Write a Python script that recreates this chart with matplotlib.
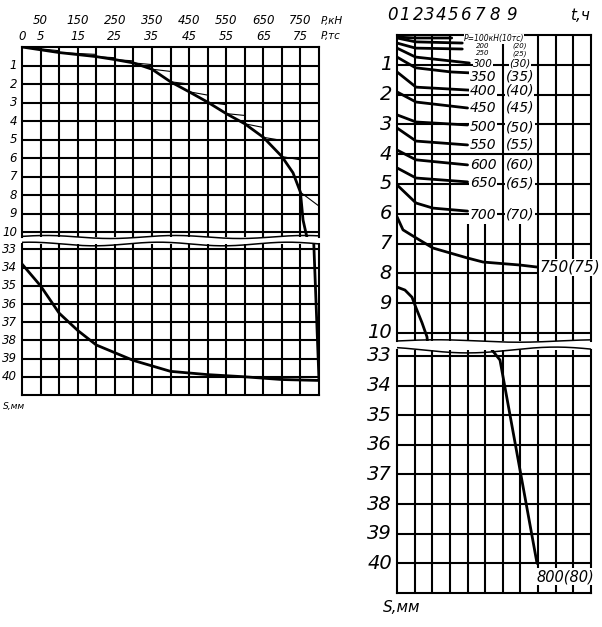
import matplotlib
matplotlib.use("Agg")
import matplotlib.pyplot as plt
import numpy as np
from matplotlib.transforms import blended_transform_factory

# ---------------- data ----------------
# Left chart: load test record, settlement S (mm) against load P (kN)
stage_P = [0, 100, 200, 250, 300, 350, 400, 450, 500, 550, 600, 650, 700, 750, 800]
stage_S_start = [0, 0.2, 0.4, 0.58, 0.75, 0.95, 1.32, 2.0, 2.6, 3.12, 3.7, 4.35, 5.05, 6.1, 8.6]
stage_S_end = [0, 0.3, 0.52, 0.68, 0.86, 1.2, 1.88, 2.42, 2.98, 3.6, 4.15, 4.88, 5.92, 7.85, 40.2]

load_curve_P = [0, 100, 200, 250, 300, 350, 400, 450, 500, 550, 600, 650, 700, 730, 750, 757, 771, 786, 800]
load_curve_S = [0, 0.3, 0.52, 0.68, 0.86, 1.2, 1.88, 2.42, 2.98, 3.6, 4.15, 4.88, 5.92, 6.8, 7.85, 9.35, 10.6, 32.7, 40.2]

unload_P = [800, 700, 600, 500, 400, 300, 200, 150, 100, 50, 0]
unload_S = [40.2, 40.15, 40.0, 39.88, 39.7, 39.1, 38.25, 37.45, 36.5, 35.0, 33.8]

top_kN_labels = [50, 150, 250, 350, 450, 550, 650, 750]
top_tf_labels = [5, 15, 25, 35, 45, 55, 65, 75]

# Right chart: settlement S (mm) against time t for every load stage
stage_loads_kN = [100, 200, 250, 300, 350, 400, 450, 500, 550, 600, 650, 700, 750, 800]
stage_loads_tf = [10, 20, 25, 30, 35, 40, 45, 50, 55, 60, 65, 70, 75, 80]
time_curves_t = {
    100: [0, 1.05, 3.1],
    200: [0, 1.05, 3.7],
    250: [0, 1.05, 3.7],
    300: [0, 1.05, 4.1],
    350: [0, 1.05, 3.06, 4.1],
    400: [0, 1.08, 4.1],
    450: [0, 1.08, 4.0],
    500: [0, 1.08, 4.0],
    550: [0, 1.08, 4.0],
    600: [0, 1.08, 4.0],
    650: [0, 1.08, 4.0],
    700: [0, 1.08, 2.04, 4.0],
    750: [0, 0.34, 1.08, 2.04, 3.97, 4.88, 6.97, 7.97],
    800: [0, 0.45, 0.85, 1.08, 1.42, 1.7, 5.39, 5.84, 7.94],
}
time_curves_S = {
    100: [0.07, 0.1, 0.1],
    200: [0.1, 0.23, 0.27],
    250: [0.27, 0.44, 0.47],
    300: [0.44, 0.74, 0.94],
    350: [0.74, 1.1, 1.24, 1.27],
    400: [1.24, 1.75, 1.85],
    450: [1.91, 2.25, 2.45],
    500: [2.68, 2.92, 3.02],
    550: [3.12, 3.56, 3.69],
    600: [3.86, 4.19, 4.36],
    650: [4.46, 4.8, 4.93],
    700: [5.03, 5.64, 5.81, 5.91],
    750: [6.1, 6.54, 6.81, 7.15, 7.48, 7.62, 7.72, 7.79],
    800: [8.46, 8.56, 8.8, 9.16, 9.66, 10.13, 32.8, 33.14, 40.0],
}
time_tick_labels = ["0", "1", "2", "3", "4", "5", "6", "7", "8", "9"]

# ---------------- styling ----------------
W, H = 602, 627
FONT = ["Liberation Sans Narrow", "DejaVu Sans"]
LW_GRID = 1.5
LW_CURVE = 2.0
LW_THIN = 0.8
INK = "black"

plt.rcParams["font.family"] = FONT
plt.rcParams["font.style"] = "italic"

fig = plt.figure(figsize=(W / 100, H / 100), dpi=100)
fig.patch.set_facecolor("white")


def px_axes(x0, y0, x1, y1):
    ax = fig.add_axes([x0 / W, 1 - y1 / H, (x1 - x0) / W, (y1 - y0) / H])
    ax.set_xticks([])
    ax.set_yticks([])
    ax.patch.set_alpha(0)
    for s in ax.spines.values():
        s.set_linewidth(LW_GRID)
        s.set_color(INK)
    return ax


def wavy_edge(ax, y, amp, waves, phase):
    xs = np.linspace(0, 1, 300)
    ys = y + amp * np.sin(2 * np.pi * waves * xs + phase)
    ax.plot(xs, ys, transform=ax.transAxes, color=INK, lw=1.1, clip_on=False,
            solid_capstyle="butt")


def fig_text(x, y, s, **kw):
    fig.text(x / W, 1 - y / H, s, **kw)


# ---------------- left chart ----------------
L_X0, L_X1 = 22, 319
axLU = px_axes(L_X0, 47, L_X1, 237)
axLL = px_axes(L_X0, 244, L_X1, 395)
axLU.set_xlim(0, 800); axLU.set_ylim(10.27, 0)
axLL.set_xlim(0, 800); axLL.set_ylim(41.0, 32.7)
axLU.spines["bottom"].set_visible(False)
axLL.spines["top"].set_visible(False)
wavy_edge(axLU, 0.0, 0.008, 2.3, 0.4)
wavy_edge(axLL, 1.0, 0.012, 2.3, 1.2)

grid_P = np.arange(50, 800, 50)
axLU.vlines(grid_P, 0, 10.27, color=INK, lw=LW_GRID)
axLU.hlines(np.arange(1, 11), 0, 800, color=INK, lw=LW_GRID)
axLL.vlines(grid_P, 32.7, 41.0, color=INK, lw=LW_GRID)
axLL.hlines(np.arange(33, 41), 0, 800, color=INK, lw=LW_GRID)

# step record: instantaneous settlement on loading, then settlement under constant load
step_x, step_y = [stage_P[0]], [stage_S_end[0]]
for p, s0, s1 in zip(stage_P[1:], stage_S_start[1:], stage_S_end[1:]):
    step_x += [p, p]
    step_y += [s0, s1]

for ax in (axLU, axLL):
    ax.plot(step_x, step_y, color=INK, lw=LW_THIN)
    ax.plot(load_curve_P, load_curve_S, color=INK, lw=LW_CURVE,
            solid_joinstyle="round", solid_capstyle="round")
    ax.plot(unload_P, unload_S, color=INK, lw=LW_CURVE,
            solid_joinstyle="round", solid_capstyle="round")

tr_top = blended_transform_factory(axLU.transData, fig.transFigure)
for p in top_kN_labels:
    axLU.text(p, 1 - 21 / H, str(p), transform=tr_top, ha="center", va="center",
              fontsize=8.5)
for p, t in zip(top_kN_labels, top_tf_labels):
    axLU.text(p, 1 - 36 / H, str(t), transform=tr_top, ha="center", va="center",
              fontsize=8.5)
axLU.text(0, 1 - 36 / H, "0", transform=tr_top, ha="center", va="center", fontsize=8.5)
fig_text(321, 21, "P,кН", ha="left", va="center", fontsize=7.5)
fig_text(321, 36, "P,тс", ha="left", va="center", fontsize=7.5)

for ax, vals in ((axLU, range(1, 11)), (axLL, range(33, 41))):
    tr = blended_transform_factory(fig.transFigure, ax.transData)
    for v in vals:
        ax.text(17 / W, v, str(v), transform=tr, ha="right", va="center", fontsize=8.5)
fig_text(3, 406, "S,мм", ha="left", va="center", fontsize=6.5)

# ---------------- right chart ----------------
R_X0, R_X1 = 397, 591
axRU = px_axes(R_X0, 35, R_X1, 341)
axRL = px_axes(R_X0, 350, R_X1, 593)
axRU.set_xlim(0, 11); axRU.set_ylim(10.27, 0)
axRL.set_xlim(0, 11); axRL.set_ylim(41.0, 32.8)
axRU.spines["bottom"].set_visible(False)
axRL.spines["top"].set_visible(False)
wavy_edge(axRU, 0.0, 0.004, 1.2, 0.0)
wavy_edge(axRL, 1.0, 0.012, 1.1, 2.2)

# columns 4, 5 and 7 are interrupted by the stage labels in the upper part
for c in range(1, 11):
    top = 6.35 if c in (4, 5, 7) else 0
    axRU.vlines(c, top, 10.27, color=INK, lw=LW_GRID)
axRU.hlines(np.arange(1, 11), 0, 11, color=INK, lw=LW_GRID)
axRL.vlines(np.arange(1, 11), 32.8, 41.0, color=INK, lw=LW_GRID)
axRL.hlines(np.arange(33, 41), 0, 11, color=INK, lw=LW_GRID)

for ax in (axRU, axRL):
    for p in stage_loads_kN:
        ax.plot(time_curves_t[p], time_curves_S[p], color=INK, lw=LW_CURVE,
                solid_joinstyle="round", solid_capstyle="round")

# stage labels: (row S, font size, box padding)
label_rows = {
    200: (0.37, 5, 0.1), 250: (0.62, 5, 0.1), 300: (0.97, 7.5, 0.2),
    350: (1.40, 10, 0.2), 400: (1.87, 10, 0.2), 450: (2.45, 10, 0.3),
    500: (3.1, 10, 0.3), 550: (3.69, 10, 0.3), 600: (4.36, 10, 0.3),
    650: (4.97, 10, 0.3), 700: (6.04, 10, 0.3),
}
axRU.text(5.5, 0.13, "P=100кН(10тс)", ha="center", va="center", fontsize=5.5,
          bbox=dict(facecolor="white", edgecolor="none", pad=0.1), zorder=5)
for p, t in zip(stage_loads_kN, stage_loads_tf):
    if p in label_rows:
        s, fs, pad = label_rows[p]
        bx = dict(facecolor="white", edgecolor="none", pad=pad)
        axRU.text(4.88, s, str(p), ha="center", va="center", fontsize=fs, bbox=bx, zorder=5)
        axRU.text(6.97, s, f"({t})", ha="center", va="center", fontsize=fs, bbox=bx, zorder=5)
box = dict(facecolor="white", edgecolor="none", pad=0.6)
axRU.text(8.08, 7.8, f"{stage_loads_kN[-2]}({stage_loads_tf[-2]})", ha="left", va="center",
          fontsize=11, bbox=box, zorder=5, clip_on=False)
axRL.text(9.55, 40.45, f"{stage_loads_kN[-1]}({stage_loads_tf[-1]})", ha="center",
          va="center", fontsize=10.5, bbox=box, zorder=5)

# time axis labels across the top
t_label_pos = [-0.23, 0.45, 1.19, 1.81, 2.49, 3.17, 3.91, 4.71, 5.56, 6.52]
tr_rt = blended_transform_factory(axRU.transData, fig.transFigure)
for c, s in zip(t_label_pos, time_tick_labels):
    axRU.text(c, 1 - 15 / H, s, transform=tr_rt, ha="center", va="center", fontsize=12)
axRU.text(10.4, 1 - 15 / H, "t,ч", transform=tr_rt, ha="center", va="center", fontsize=11)

for ax, vals in ((axRU, range(1, 11)), (axRL, range(33, 41))):
    tr = blended_transform_factory(fig.transFigure, ax.transData)
    for v in vals:
        ax.text(392 / W, v, str(v), transform=tr, ha="right", va="center", fontsize=14)
fig_text(383, 608, "S,мм", ha="left", va="center", fontsize=11)

fig.savefig("out.png", dpi=100, facecolor="white")
